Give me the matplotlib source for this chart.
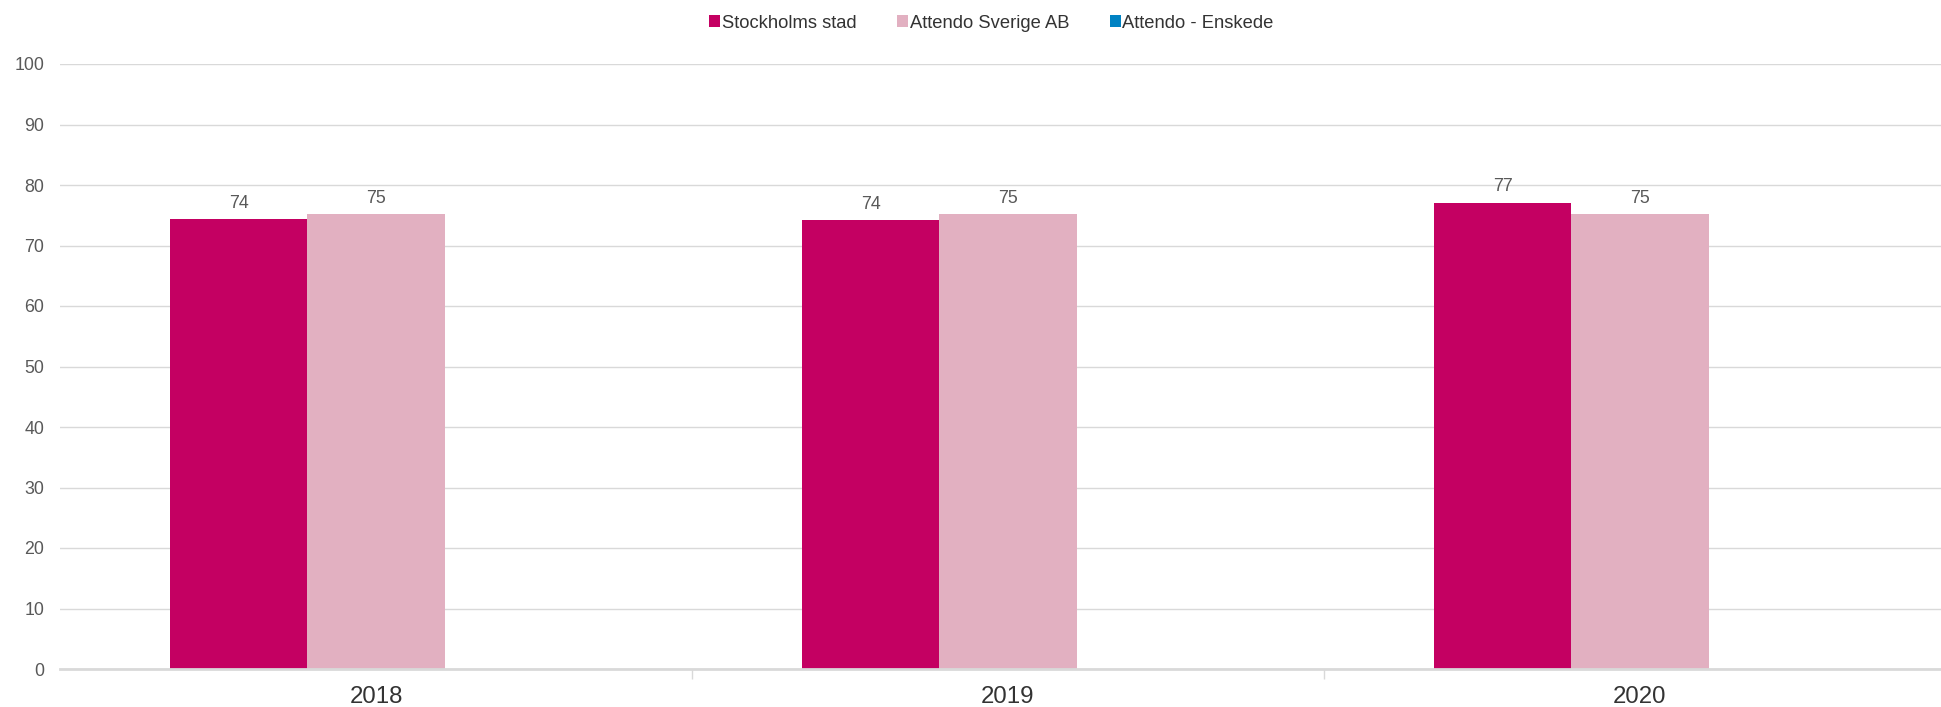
import numpy as np
import matplotlib
matplotlib.use("Agg")
import matplotlib.pyplot as plt
from matplotlib.patches import Patch

# %% Data
years = ['2018', '2019', '2020']
series = ['Stockholms stad', 'Attendo Sverige AB', 'Attendo - Enskede']
stockholm = [74.4, 74.2, 77.1]
attendo_ab = [75.2, 75.2, 75.2]
enskede = [np.nan, np.nan, np.nan]  # no values shown
colors = ['#C40062', '#E2B0C1', '#0082C3']

plt.rcParams['font.family'] = ['Liberation Sans', 'DejaVu Sans']

# %% Figure
W, H = 1941, 707
fig = plt.figure(figsize=(W/100, H/100), dpi=100)
ax = fig.add_axes([60/W, (H-669)/H, (W-60)/W, (669-64)/H])

x = np.arange(len(years))
bw = 0.2174
vals = [stockholm, attendo_ab, enskede]
for i, v in enumerate(vals):
    off = (i - 1) * bw
    v = np.array(v, dtype=float)
    ax.bar(x + off, np.nan_to_num(v), width=bw, color=colors[i], zorder=2,
           linewidth=0)
    for xi, vi in zip(x, v):
        if not np.isnan(vi):
            ax.text(xi + off, vi + 1.2, f'{vi:.0f}', ha='center', va='bottom',
                    fontsize=12.8, color='#595959')

ax.set_ylim(0, 100)
ax.set_xlim(-0.5, 2.5 - 15/633)
ax.set_yticks(np.arange(0, 101, 10))
ax.yaxis.grid(True, color='#D9D9D9', linewidth=1.0, zorder=0)
ax.set_axisbelow(True)
for s in ['top', 'right', 'left']:
    ax.spines[s].set_visible(False)
ax.spines['bottom'].set_color('#D9D9D9')
ax.spines['bottom'].set_linewidth(2)

ax.set_xticks(x)
ax.set_xticklabels(years, fontsize=17.3, color='#333333')
ax.set_xticks([0.5, 1.5], minor=True)
ax.tick_params(axis='x', which='major', length=0, pad=12.5)
ax.tick_params(axis='x', which='minor', length=7, color='#D9D9D9', width=1)
ax.tick_params(axis='y', length=0, labelsize=12.8, labelcolor='#595959', pad=11.5)

handles = [Patch(facecolor=c, edgecolor='none') for c in colors]
fig.legend(handles, series, loc='center', bbox_to_anchor=(0.5 + 21/W, 1 - 23/H),
           ncol=3, frameon=False, fontsize=13.2, handlelength=0.6,
           handleheight=0.6, handletextpad=0.1, columnspacing=2.2,
           labelcolor='#333333')

fig.savefig('out.png', dpi=100)
